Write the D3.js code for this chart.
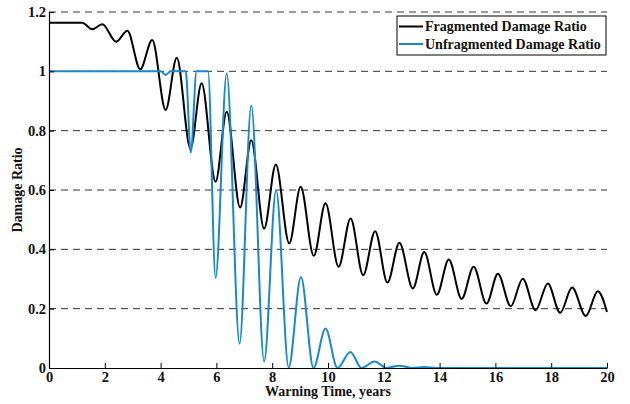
<!DOCTYPE html>
<html lang="en">
<head>
    <meta charset="UTF-8">
    <title>Damage Ratio vs Warning Time</title>
    <script src="https://d3js.org/d3.v7.min.js"></script>
    <style>
        body { margin: 0; background: white; }
        svg { display: block; }
        text { font-family: "Liberation Serif", "Times New Roman", serif; font-weight: bold; fill: #111; }
    </style>
</head>
<body>
    <svg id="chart" width="630" height="404"></svg>

    <script>
        // Fragmented curve: extrema (years, ratio)
        const fragX = [0, 1.19, 1.55, 1.91, 2.41, 2.81, 3.27, 3.70, 4.18, 4.58, 5.07, 5.47, 5.97, 6.37, 6.85, 7.25,
                       7.71, 8.13, 8.61, 9.02, 9.49, 9.91, 10.38, 10.81, 11.26, 11.69, 12.13, 12.56, 13.04, 13.45,
                       13.90, 14.33, 14.79, 15.22, 15.68, 16.09, 16.55, 16.98, 17.44, 17.88, 18.32, 18.75, 19.24, 19.67, 20];
        const fragY = [1.164, 1.164, 1.142, 1.159, 1.100, 1.137, 1.007, 1.106, 0.870, 1.046, 0.740, 0.960, 0.628, 0.864, 0.541, 0.768,
                       0.470, 0.686, 0.420, 0.611, 0.378, 0.555, 0.341, 0.504, 0.313, 0.461, 0.288, 0.422, 0.268, 0.391,
                       0.247, 0.366, 0.233, 0.341, 0.217, 0.318, 0.208, 0.301, 0.195, 0.285, 0.186, 0.271, 0.175, 0.259, 0.189];

        // Unfragmented curve
        const unfragX = [0, 4.00, 4.18, 4.36, 4.90, 5.08, 5.29, 5.70, 5.97, 6.37, 6.83, 7.25, 7.71, 8.14, 8.59, 9.03,
                         9.48, 9.91, 10.34, 10.80, 11.20, 11.67, 12.10, 12.55, 13.00, 13.45, 13.90, 20];
        const unfragY = [1, 1, 0.988, 1, 1, 0.726, 1, 1, 0.304, 0.993, 0.082, 0.885, 0.022, 0.600, 0.002, 0.307,
                         0, 0.133, 0, 0.054, 0, 0.022, 0, 0.008, 0, 0.003, 0, 0];

        const xTicks = [0, 2, 4, 6, 8, 10, 12, 14, 16, 18, 20];
        const yTicks = [0, 0.2, 0.4, 0.6, 0.8, 1, 1.2];
        const seriesNames = ["Fragmented Damage Ratio", "Unfragmented Damage Ratio"];
        const seriesColors = ["#000000", "#1a88cc"];

        const svg = d3.select("#chart");
        const margin = { left: 49, right: 23, top: 12, bottom: 36 };
        const width = +svg.attr("width");
        const height = +svg.attr("height");

        const x = d3.scaleLinear().domain([0, 20]).range([margin.left, width - margin.right]);
        const y = d3.scaleLinear().domain([0, 1.2]).range([height - margin.bottom, margin.top]);

        // dashed grid
        svg.append("g")
            .selectAll("line")
            .data(yTicks.filter(d => d > 0))
            .enter()
            .append("line")
            .attr("x1", x(0))
            .attr("x2", x(20))
            .attr("y1", d => y(d))
            .attr("y2", d => y(d))
            .attr("stroke", "#333")
            .attr("stroke-width", 1)
            .attr("stroke-dasharray", "7,5");

        const series = [
            d3.zip(fragX, fragY),
            d3.zip(unfragX, unfragY)
        ];

        const line = d3.line()
            .x(d => x(d[0]))
            .y(d => y(d[1]))
            .curve(d3.curveMonotoneX);

        svg.selectAll("path.series")
            .data(series)
            .enter()
            .append("path")
            .classed("series", true)
            .attr("d", line)
            .attr("fill", "none")
            .attr("stroke", (d, i) => seriesColors[i])
            .attr("stroke-width", 2)
            .attr("stroke-linejoin", "round");

        // axes, ticks pointing inward
        const xAxis = svg.append("g")
            .attr("transform", `translate(0,${y(0)})`)
            .call(d3.axisBottom(x).tickValues(xTicks).tickSizeInner(-5).tickSizeOuter(0).tickPadding(4).tickFormat(d3.format("d")));
        const yAxis = svg.append("g")
            .attr("transform", `translate(${x(0)},0)`)
            .call(d3.axisLeft(y).tickValues(yTicks).tickSizeInner(-5).tickSizeOuter(0).tickPadding(3).tickFormat(d => d));

        [xAxis, yAxis].forEach(g => {
            g.attr("font-family", "Liberation Serif").attr("font-size", 14.5).attr("font-weight", "bold");
            g.select(".domain").attr("stroke", "#000").attr("stroke-width", 1.2);
            g.selectAll(".tick line").attr("stroke", "#000");
            g.selectAll(".tick text").attr("fill", "#111");
        });

        svg.append("text")
            .attr("x", (x(0) + x(20)) / 2)
            .attr("y", 396)
            .attr("text-anchor", "middle")
            .style("font-size", "14px")
            .text("Warning Time, years");

        svg.append("text")
            .attr("transform", `translate(22,${y(0.6)}) rotate(-90)`)
            .attr("text-anchor", "middle")
            .style("font-size", "14px")
            .text("Damage Ratio");

        // legend
        const legend = svg.append("g").attr("transform", "translate(397,16)");
        legend.append("rect")
            .attr("width", 209)
            .attr("height", 39)
            .attr("fill", "white")
            .attr("stroke", "#000")
            .attr("stroke-width", 1);

        const items = legend.selectAll("g.item")
            .data(seriesNames)
            .enter()
            .append("g")
            .classed("item", true)
            .attr("transform", (d, i) => `translate(0,${10.5 + i * 17.5})`);

        items.append("line")
            .attr("x1", 2)
            .attr("x2", 26)
            .attr("stroke", (d, i) => seriesColors[i])
            .attr("stroke-width", 2);

        items.append("text")
            .attr("x", 28)
            .attr("dy", "0.35em")
            .style("font-size", "14px")
            .text(d => d);
    </script>
</body>
</html>
